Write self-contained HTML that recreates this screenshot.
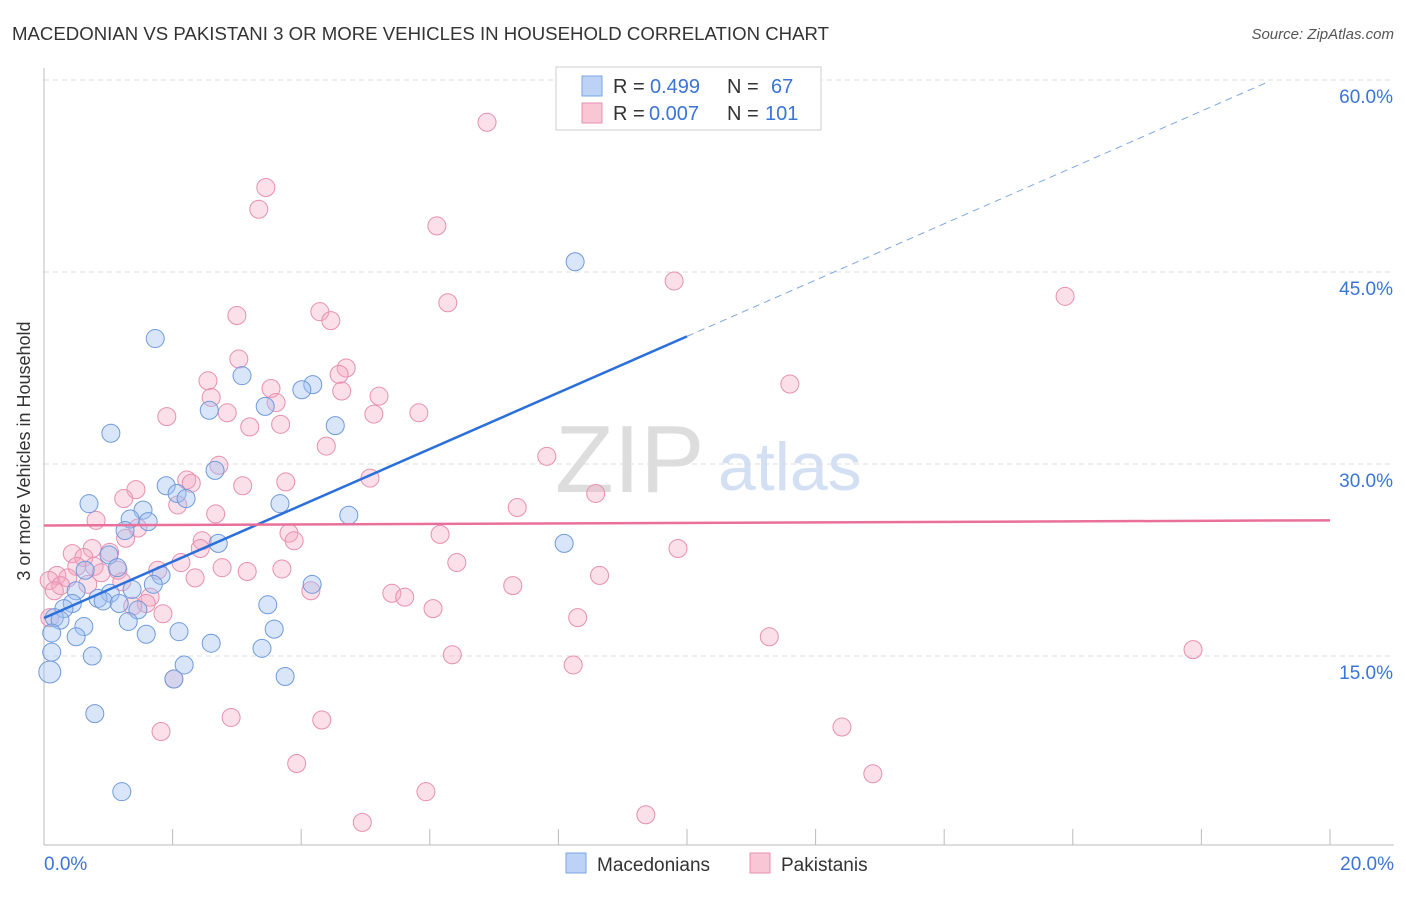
<!DOCTYPE html>
<html><head><meta charset="utf-8"><style>
body{margin:0;background:#fff;font-family:"Liberation Sans",sans-serif;}
svg text{font-family:"Liberation Sans",sans-serif;}
</style></head><body>
<svg id="c" width="1406" height="892" xmlns="http://www.w3.org/2000/svg">
<text x="12" y="40" font-size="18" fill="#333" textLength="817" lengthAdjust="spacingAndGlyphs">MACEDONIAN VS PAKISTANI 3 OR MORE VEHICLES IN HOUSEHOLD CORRELATION CHART</text>
<text x="1394" y="39" font-size="15" fill="#555" font-style="italic" text-anchor="end">Source: ZipAtlas.com</text>
<text x="36" y="457" font-size="18" fill="#333" text-anchor="middle" transform="rotate(-90 30 457)">3 or more Vehicles in Household</text>
<text x="555" y="492" font-size="96" fill="#ddd" font-family="Liberation Serif">ZIP</text>
<text x="718" y="490" font-size="68" fill="#d3e0f3">atlas</text>
<g id="grid"></g><g id="marks"></g><g id="lines"></g>
<rect x="556" y="67" width="265" height="63" fill="#fff" stroke="#ccc"/>
<rect x="582" y="76" width="20" height="20" fill="#bcd3f5" stroke="#7ba3e0"/>
<rect x="582" y="103" width="20" height="20" fill="#f9c6d6" stroke="#e88fb0"/>
<g font-size="20">
<text x="613" y="93" fill="#333">R =</text><text x="650" y="93" fill="#3a74d6">0.499</text>
<text x="727" y="93" fill="#333">N =</text><text x="771" y="93" fill="#3a74d6">67</text>
<text x="613" y="120" fill="#333">R =</text><text x="649" y="120" fill="#3a74d6">0.007</text>
<text x="727" y="120" fill="#333">N =</text><text x="765" y="120" fill="#3a74d6">101</text>
</g>
<rect x="566" y="853" width="20" height="20" fill="#bcd3f5" stroke="#7ba3e0"/>
<text x="597" y="871" font-size="19" fill="#333">Macedonians</text>
<rect x="750" y="853" width="20" height="20" fill="#f9c6d6" stroke="#e88fb0"/>
<text x="781" y="871" font-size="19" fill="#333">Pakistanis</text>
<text x="44" y="870" font-size="19" fill="#3a74d6">0.0%</text>
<text x="1394" y="870" font-size="19" fill="#3a74d6" text-anchor="end">20.0%</text>
</svg>
<script>
const yTicks=[15,30,45,60];
const yTickLabels=["15.0%","30.0%","45.0%","60.0%"];
const xTicks=[0,2,4,6,8,10,12,14,16,18,20];
const blueX=[8.26,1.73,3.08,4.18,4.01,2.57,3.44,4.53,1.04,2.66,1.90,2.07,2.21,0.70,3.67,1.54,4.74,1.34,1.62,1.26,8.09,2.71,1.01,0.64,1.14,1.82,1.70,4.17,1.37,0.50,1.03,0.84,0.92,1.17,0.44,0.31,3.48,1.46,0.16,0.25,1.31,0.62,3.58,2.10,1.59,0.50,0.12,2.60,3.39,0.12,0.75,2.18,0.09,3.75,2.02,0.79,1.21];
const blueY=[45.8,39.8,36.9,36.2,35.8,34.2,34.5,33.0,32.4,29.5,28.3,27.7,27.3,26.9,26.9,26.4,26.0,25.7,25.5,24.8,23.8,23.8,22.9,21.7,21.9,21.3,20.6,20.6,20.2,20.1,19.9,19.5,19.3,19.1,19.1,18.7,19.0,18.6,18.0,17.8,17.7,17.3,17.1,16.9,16.7,16.5,16.8,16.0,15.6,15.3,15.0,14.3,13.75,13.4,13.2,10.5,4.4];
const pinkX=[6.89,3.45,3.34,6.11,9.80,15.88,6.28,3.00,4.29,4.46,3.03,4.70,4.59,2.55,3.53,4.63,5.21,2.60,3.61,11.60,1.91,2.85,5.13,5.83,3.20,3.68,4.39,7.82,2.72,5.07,2.22,2.29,3.76,3.09,1.43,1.24,8.58,2.08,7.36,2.67,0.81,1.46,1.27,3.81,6.16,2.46,3.89,9.86,0.75,2.43,1.02,0.44,0.62,2.13,6.42,0.51,1.15,0.78,1.77,2.77,3.70,3.16,0.89,0.20,0.37,0.08,8.64,2.35,1.21,0.68,0.26,7.29,0.16,4.15,5.41,5.61,1.65,1.59,1.38,6.05,1.85,0.09,8.30,11.28,17.87,6.35,8.23,2.02,2.91,4.32,1.82,12.41,3.93,12.89,5.94,4.95,9.36];
const pinkY=[56.7,51.6,49.9,48.6,44.3,43.1,42.6,41.6,41.9,41.2,38.2,37.5,37.0,36.5,35.9,35.7,35.3,35.2,34.8,36.25,33.7,34.0,33.9,34.0,32.9,33.1,31.4,30.6,29.9,28.9,28.75,28.5,28.6,28.3,28.0,27.3,27.7,26.8,26.6,26.1,25.6,25.0,24.2,24.6,24.5,24.0,24.0,23.4,23.4,23.4,23.1,23.0,22.7,22.3,22.3,22.0,21.7,22.0,21.7,21.9,21.8,21.6,21.5,21.3,21.1,20.9,21.3,21.1,20.8,20.6,20.5,20.5,20.1,20.1,19.9,19.6,19.6,19.1,18.9,18.7,18.3,18.0,18.0,16.5,15.5,15.1,14.3,13.2,10.2,10.0,9.1,9.45,6.6,5.8,4.4,2.0,2.6];
const blueTrend=[17.97,2.2];
const pinkTrend=[25.2,0.02];
const NS="http://www.w3.org/2000/svg";
const X=v=>44+v*64.3, Y=v=>848-v*12.8;
function mk(t,a,p){const e=document.createElementNS(NS,t);for(const k in a)e.setAttribute(k,a[k]);p.appendChild(e);return e;}
const grid=document.getElementById('grid'),marks=document.getElementById('marks'),lines=document.getElementById('lines');
yTicks.forEach((v,i)=>{
 const l=mk('line',{x1:44,x2:1394,y1:Y(v),y2:Y(v),stroke:'#ddd','stroke-dasharray':'5,4'},grid);
 
 
 const t=mk('text',{x:1393,y:Y(v)+23,'font-size':19,fill:'#3a74d6','text-anchor':'end'},grid);
 t.textContent=yTickLabels[i];
 
 
});
const ax=mk('line',{x1:44,x2:1394,y1:845,y2:845,stroke:'#bbb'},grid);


const ay=mk('line',{x1:44,x2:44,y1:68,y2:845,stroke:'#bbb'},grid);


xTicks.forEach(v=>{
 const l=mk('line',{x1:X(v),x2:X(v),y1:829,y2:845,stroke:'#bbb'},grid);
 
 
});
pinkX.forEach((x,i)=>{
 const c=mk('circle',{cx:X(x),cy:Y(pinkY[i]),r:9,fill:'rgba(244,165,192,0.35)',stroke:'#e88fb0','stroke-width':1},marks);
 
 
});
blueX.forEach((x,i)=>{
 const c=mk('circle',{cx:X(x),cy:Y(blueY[i]),r:(x<0.1&&blueY[i]<14)?11:9,fill:'rgba(160,192,242,0.4)',stroke:'#6f9ada','stroke-width':1},marks);
 
 
});
const bl=mk('line',{x1:X(0),y1:Y(blueTrend[0]),x2:X(10),y2:Y(blueTrend[0]+10*blueTrend[1]),stroke:'#2a6fdb','stroke-width':2.5},lines);


const bd=mk('line',{x1:X(10),y1:Y(blueTrend[0]+10*blueTrend[1]),x2:X(19),y2:Y(blueTrend[0]+19*blueTrend[1]),stroke:'#7fa6e3','stroke-width':1,'stroke-dasharray':'7,5'},lines);


const pl=mk('line',{x1:X(0),y1:Y(pinkTrend[0]),x2:X(20),y2:Y(pinkTrend[0]+20*pinkTrend[1]),stroke:'#e8709a','stroke-width':2.5},lines);


</script>
</body></html>
